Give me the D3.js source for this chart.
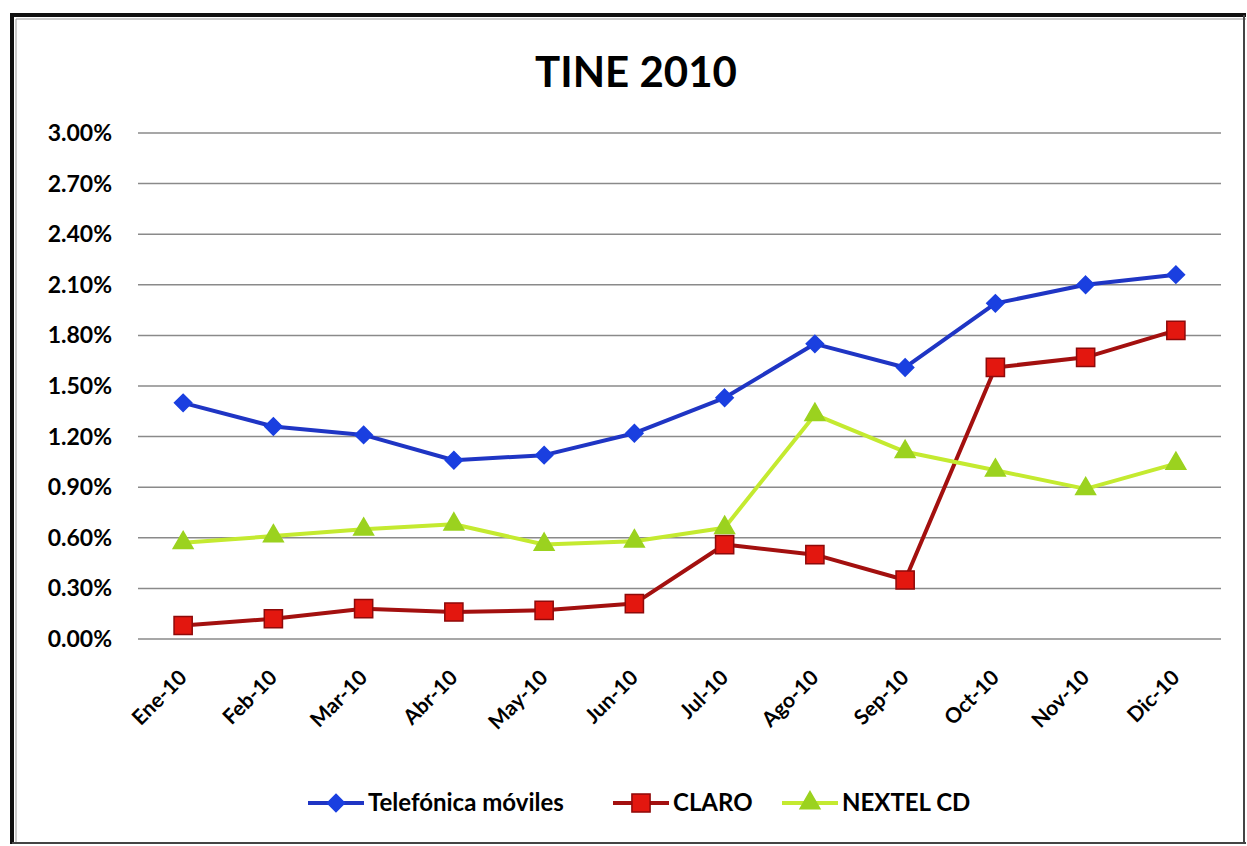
<!DOCTYPE html>
<html>
<head>
<meta charset="utf-8">
<script src="https://cdn.jsdelivr.net/npm/d3@7"></script>
<style>
  body { margin: 0; background: #fff; }
  svg { display: block; }
</style>
</head>
<body>
<div id="chart"></div>
<script>
const months = ['Ene-10', 'Feb-10', 'Mar-10', 'Abr-10', 'May-10', 'Jun-10', 'Jul-10', 'Ago-10', 'Sep-10', 'Oct-10', 'Nov-10', 'Dic-10']
const telefonica = [1.40, 1.26, 1.21, 1.06, 1.09, 1.22, 1.43, 1.75, 1.61, 1.99, 2.10, 2.16]
const claro = [0.08, 0.12, 0.18, 0.16, 0.17, 0.21, 0.56, 0.50, 0.35, 1.61, 1.67, 1.83]
const nextel = [0.57, 0.61, 0.65, 0.68, 0.56, 0.58, 0.66, 1.33, 1.11, 1.00, 0.89, 1.04]
const yTicks = [0, 0.3, 0.6, 0.9, 1.2, 1.5, 1.8, 2.1, 2.4, 2.7, 3.0]

const series = [
  { name: 'Telefónica móviles', values: telefonica, line: '#1f35c4', fill: '#1a3fe0', stroke: '#1a3fe0', shape: 'diamond' },
  { name: 'CLARO', values: claro, line: '#a3100f', fill: '#e3170f', stroke: '#8e0a0a', shape: 'square' },
  { name: 'NEXTEL CD', values: nextel, line: '#c4ea30', fill: '#9bd21f', stroke: '#9bd21f', shape: 'triangle' }
]

const width = 1247
const height = 846
const margin = { top: 133, right: 26, bottom: 207, left: 138 }
const innerWidth = width - margin.left - margin.right
const innerHeight = height - margin.top - margin.bottom
const font = 'Lato, "Open Sans", sans-serif'

const svg = d3.select('#chart')
  .append('svg')
  .attr('width', width)
  .attr('height', height)
  .style('font-family', font)

// outer frame: dark left/top edges, light right/bottom edges
const frame = [
  { x1: 12, y1: 15, x2: 12, y2: 844, c: '#111', w: 4 },
  { x1: 10, y1: 15, x2: 1246, y2: 15, c: '#111', w: 4 },
  { x1: 16, y1: 19, x2: 16, y2: 842, c: '#999', w: 1 },
  { x1: 16, y1: 19, x2: 1246, y2: 19, c: '#999', w: 1 },
  { x1: 1244, y1: 15, x2: 1244, y2: 844, c: '#444', w: 2 },
  { x1: 12, y1: 843, x2: 1246, y2: 843, c: '#444', w: 2 }
]
svg.append('g')
  .selectAll('line')
  .data(frame)
  .join('line')
  .attr('x1', (d) => d.x1).attr('y1', (d) => d.y1)
  .attr('x2', (d) => d.x2).attr('y2', (d) => d.y2)
  .attr('stroke', (d) => d.c)
  .attr('stroke-width', (d) => d.w)

svg.append('text')
  .attr('x', 636)
  .attr('y', 87)
  .attr('text-anchor', 'middle')
  .attr('font-size', 42)
  .attr('font-weight', 'bold')
  .attr('fill', '#000')
  .text('TINE 2010')

// scales in page coordinates
const x = d3.scaleBand().domain(months).range([margin.left, margin.left + innerWidth])
const y = d3.scaleLinear().domain([0, 3]).range([margin.top + innerHeight, margin.top])
const cx = (i) => x(months[i]) + x.bandwidth() / 2

// gridlines
svg.append('g')
  .selectAll('line')
  .data(yTicks)
  .join('line')
  .attr('x1', margin.left)
  .attr('x2', margin.left + innerWidth)
  .attr('y1', (d) => y(d))
  .attr('y2', (d) => y(d))
  .attr('stroke', '#8a8a8a')
  .attr('stroke-width', 1.5)

// y labels
svg.append('g')
  .selectAll('text')
  .data(yTicks)
  .join('text')
  .attr('x', margin.left - 26)
  .attr('y', (d) => y(d))
  .attr('dy', '0.35em')
  .attr('text-anchor', 'end')
  .attr('font-size', 23)
  .attr('font-weight', 'bold')
  .attr('fill', '#000')
  .text((d) => d.toFixed(2) + '%')

// x labels
const labelY = margin.top + innerHeight + 40
svg.append('g')
  .selectAll('text')
  .data(months)
  .join('text')
  .attr('x', (d) => x(d) + x.bandwidth() / 2 + 5)
  .attr('y', labelY)
  .attr('transform', (d) => `rotate(-45 ${x(d) + x.bandwidth() / 2 + 5} ${labelY})`)
  .attr('text-anchor', 'end')
  .attr('font-size', 21)
  .attr('font-weight', 'bold')
  .attr('fill', '#000')
  .text((d) => d)

const symbolPath = (shape, size) => {
  if (shape === 'diamond') return d3.symbol(d3.symbolDiamond2, size)()
  if (shape === 'square') return d3.symbol(d3.symbolSquare, size)()
  return d3.symbol(d3.symbolTriangle, size)()
}
const markerSize = { diamond: 190, square: 330, triangle: 170 }

const line = d3.line().x((d, i) => cx(i)).y((d) => y(d))

series.forEach((s) => {
  svg.append('path')
    .datum(s.values)
    .attr('d', line)
    .attr('fill', 'none')
    .attr('stroke', s.line)
    .attr('stroke-width', 4)
    .attr('stroke-linejoin', 'round')
})

series.forEach((s) => {
  svg.append('g')
    .selectAll('path')
    .data(s.values)
    .join('path')
    .attr('transform', (d, i) => `translate(${cx(i)},${y(d)})`)
    .attr('d', symbolPath(s.shape, markerSize[s.shape]))
    .attr('fill', s.fill)
    .attr('stroke', s.stroke)
    .attr('stroke-width', 1.5)
})

// legend
const legendX = [308, 613, 782]
const legendY = 803
series.forEach((s, i) => {
  const lx = legendX[i]
  svg.append('line')
    .attr('x1', lx)
    .attr('x2', lx + 56)
    .attr('y1', legendY)
    .attr('y2', legendY)
    .attr('stroke', s.line)
    .attr('stroke-width', 4)
  svg.append('path')
    .attr('transform', `translate(${lx + 28},${legendY})`)
    .attr('d', symbolPath(s.shape, markerSize[s.shape]))
    .attr('fill', s.fill)
    .attr('stroke', s.stroke)
    .attr('stroke-width', 1.5)
  svg.append('text')
    .attr('x', lx + 60)
    .attr('y', legendY)
    .attr('dy', '0.35em')
    .attr('font-size', 24)
    .attr('font-weight', 'bold')
    .attr('fill', '#000')
    .text(s.name)
})
</script>
</body>
</html>
